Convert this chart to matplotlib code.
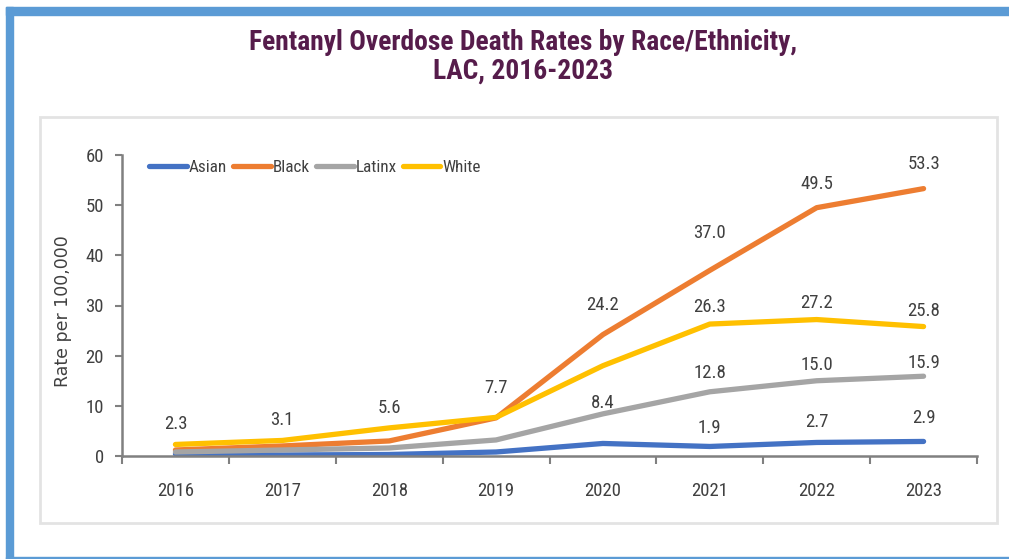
import matplotlib
matplotlib.use("Agg")
import matplotlib.pyplot as plt
from matplotlib.patches import Rectangle

years = ["2016", "2017", "2018", "2019", "2020", "2021", "2022", "2023"]
asian = [0.4, 0.2, 0.3, 0.8, 2.5, 1.9, 2.7, 2.9]
black = [1.2, 2.0, 3.0, 7.6, 24.2, 37.0, 49.5, 53.3]
latinx = [0.8, 1.2, 1.6, 3.2, 8.4, 12.8, 15.0, 15.9]
white = [2.3, 3.1, 5.6, 7.7, 18.0, 26.3, 27.2, 25.8]

series_names = ["Asian", "Black", "Latinx", "White"]
colors = ["#4472C4", "#ED7D31", "#A5A5A5", "#FFC000"]

# which points get a value label: (series index, year index)
labelled = [(3, 0), (3, 1), (3, 2), (3, 3),
            (1, 4), (1, 5), (1, 6), (1, 7),
            (3, 5), (3, 6), (3, 7),
            (2, 4), (2, 5), (2, 6), (2, 7),
            (0, 5), (0, 6), (0, 7)]

NARROW = ["Liberation Sans Narrow", "Roboto Condensed", "Liberation Sans", "DejaVu Sans"]

fig = plt.figure(figsize=(10.09, 5.59), dpi=100)

# outer blue frame
frame = "#5B9BD5"
fig.patches.append(Rectangle((6 / 1009, 0), 7 / 1009, 1 - 7 / 559,
                             transform=fig.transFigure, color=frame, zorder=0))
fig.patches.append(Rectangle((6 / 1009, 1 - 14.5 / 559), 1, 7.5 / 559,
                             transform=fig.transFigure, color=frame, zorder=0))
fig.patches.append(Rectangle((6 / 1009, 0), 1, 2.5 / 559,
                             transform=fig.transFigure, color=frame, zorder=0))

# inner chart box
fig.patches.append(Rectangle((40 / 1009, 1 - 523 / 559), 957 / 1009, 406 / 559,
                             transform=fig.transFigure, facecolor="white",
                             edgecolor="#E3E3E3", lw=2, zorder=0))

title_kw = dict(ha="center", va="center", fontsize=19.8, fontweight="bold",
                color="#561C4B", family=NARROW)
fig.text(0.518, 1 - 42 / 559, "Fentanyl Overdose Death Rates by Race/Ethnicity,", **title_kw)
fig.text(0.518, 1 - 71 / 559, "LAC, 2016-2023", **title_kw)

ax = fig.add_axes([122 / 1009, 1 - 456 / 559, 855 / 1009, 301 / 559])
ax.set_zorder(2)
ax.set_facecolor("none")

data = [asian, black, latinx, white]
x = list(range(len(years)))
for vals, name, c in zip(data, series_names, colors):
    ax.plot(x, vals, color=c, lw=3.8, label=name, solid_capstyle="round",
            solid_joinstyle="round")

# label offsets above the point, in points
nudge = {(3, 2): -1, (3, 3): 6.5, (1, 4): 6, (1, 5): 12, (1, 6): 2, (1, 7): 3,
         (3, 5): -3, (3, 6): -3, (3, 7): -3.5,
         (2, 4): -7, (2, 5): -1.5, (2, 6): -4, (2, 7): -5.5,
         (0, 5): -2, (0, 7): 2}
for s, i in labelled:
    v = data[s][i]
    off = 15 + nudge.get((s, i), 0)
    ax.annotate(f"{v:.1f}", (x[i], v), xytext=(0, off), textcoords="offset points",
                ha="center", va="center", fontsize=13.5, color="#404040", family=NARROW)

ax.set_xlim(-0.5, len(years) - 0.5)
ax.set_ylim(0, 60)
ax.set_yticks(range(0, 61, 10))
ax.set_xticks(x)
ax.set_xticklabels(years)
ax.set_xticks([i - 0.5 for i in range(len(years) + 1)], minor=True)
ax.tick_params(axis="x", which="major", length=0, pad=19, labelsize=13.5,
               labelcolor="#404040")
ax.tick_params(axis="x", which="minor", length=6, width=1.5, color="#808080",
               direction="out")
ax.tick_params(axis="y", length=5, width=1.5, color="#808080", pad=8,
               labelsize=13.5, labelcolor="#404040")
for lab in ax.get_xticklabels() + ax.get_yticklabels():
    lab.set_family(NARROW)

for side in ["top", "right"]:
    ax.spines[side].set_visible(False)
for side in ["left", "bottom"]:
    ax.spines[side].set_color("#808080")
    ax.spines[side].set_linewidth(1.8)

ax.set_ylabel("Rate per 100,000", fontsize=12.5, color="#404040")
ax.yaxis.set_label_coords(-0.058, 0.48)

leg = ax.legend(loc="upper left", bbox_to_anchor=(0.014, 1.036), ncol=4,
                frameon=False, handlelength=2.2, handletextpad=0.12,
                columnspacing=0.35, prop={"family": NARROW, "size": 12.3})
for t in leg.get_texts():
    t.set_color("#404040")

fig.savefig("out.png", dpi=100)
